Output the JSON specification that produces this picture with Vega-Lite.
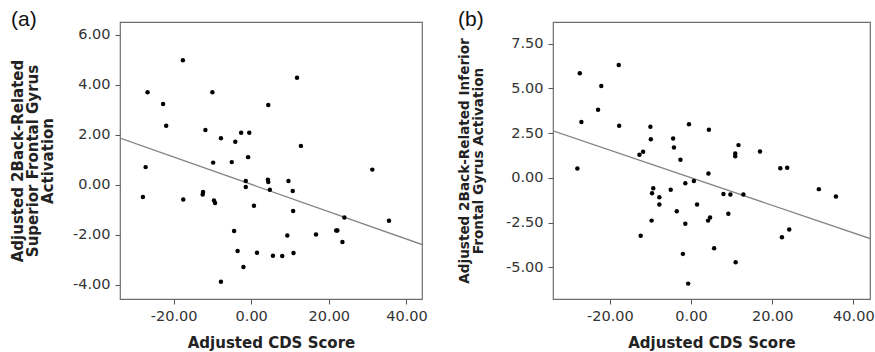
{
  "$schema": "https://vega.github.io/schema/vega-lite/v6.json",
  "padding": {"left": 10, "top": 8, "right": 0, "bottom": 0},
  "spacing": 29,
  "resolve": {"scale": {"x": "independent", "y": "independent"}},
  "config": {
    "view": {"stroke": "#6e6e6e", "strokeWidth": 1.2},
    "axis": {"grid": false, "domain": false, "tickColor": "#555", "tickSize": 5, "labelFont": "DejaVu Sans", "labelFontSize": 14.5, "labelColor": "#333", "labelPadding": 5, "titleFont": "DejaVu Sans", "titleFontSize": 15, "titleFontWeight": "bold", "titleColor": "#222", "labelFlush": false},
    "title": {"font": "Liberation Sans", "fontSize": 21, "fontWeight": "normal", "anchor": "start", "frame": "bounds", "baseline": "alphabetic", "offset": -8, "color": "#111"}
  },
  "datasets": {
    "a": [
      {"x": -17.6, "y": 4.99}, {"x": -26.7, "y": 3.71}, {"x": -22.7, "y": 3.24}, {"x": -21.9, "y": 2.37},
      {"x": -10.0, "y": 3.71}, {"x": 11.8, "y": 4.29}, {"x": 4.4, "y": 3.2}, {"x": -11.8, "y": 2.2},
      {"x": -7.8, "y": 1.87}, {"x": -4.1, "y": 1.73}, {"x": -2.6, "y": 2.09}, {"x": -0.5, "y": 2.09},
      {"x": 12.8, "y": 1.56}, {"x": -27.2, "y": 0.71}, {"x": -9.8, "y": 0.89}, {"x": -5.0, "y": 0.91},
      {"x": -0.8, "y": 1.11}, {"x": 31.2, "y": 0.61}, {"x": -1.4, "y": 0.15}, {"x": -1.4, "y": -0.09},
      {"x": 4.3, "y": 0.2}, {"x": 4.4, "y": 0.11}, {"x": 4.8, "y": -0.2}, {"x": 9.6, "y": 0.15},
      {"x": 10.7, "y": -0.25}, {"x": -27.9, "y": -0.49}, {"x": -17.5, "y": -0.59}, {"x": -12.4, "y": -0.29},
      {"x": -12.5, "y": -0.39}, {"x": -9.6, "y": -0.63}, {"x": -9.3, "y": -0.73}, {"x": 0.7, "y": -0.84},
      {"x": 10.8, "y": -1.05}, {"x": 35.5, "y": -1.44}, {"x": 24.0, "y": -1.31}, {"x": -4.4, "y": -1.85},
      {"x": 9.3, "y": -2.03}, {"x": 16.7, "y": -1.99}, {"x": 21.9, "y": -1.83}, {"x": 22.2, "y": -1.83},
      {"x": 23.5, "y": -2.29}, {"x": -3.5, "y": -2.65}, {"x": 1.5, "y": -2.72}, {"x": 5.6, "y": -2.84},
      {"x": 8.0, "y": -2.85}, {"x": 10.9, "y": -2.73}, {"x": -2.0, "y": -3.29}, {"x": -7.8, "y": -3.88}
    ],
    "b": [
      {"x": -17.8, "y": 6.31}, {"x": -27.4, "y": 5.84}, {"x": -22.1, "y": 5.13}, {"x": -22.9, "y": 3.81},
      {"x": -27.0, "y": 3.12}, {"x": -17.7, "y": 2.91}, {"x": -10.0, "y": 2.85}, {"x": -0.5, "y": 3.0},
      {"x": 4.4, "y": 2.69}, {"x": -9.9, "y": 2.16}, {"x": -4.4, "y": 2.2}, {"x": -4.2, "y": 1.7},
      {"x": -11.8, "y": 1.46}, {"x": -12.7, "y": 1.29}, {"x": -2.6, "y": 1.01}, {"x": 11.7, "y": 1.83},
      {"x": 10.9, "y": 1.36}, {"x": 10.9, "y": 1.21}, {"x": 17.0, "y": 1.47}, {"x": 22.0, "y": 0.54},
      {"x": 23.7, "y": 0.56}, {"x": -28.0, "y": 0.52}, {"x": 4.3, "y": 0.24}, {"x": -1.4, "y": -0.3},
      {"x": 0.7, "y": -0.17}, {"x": -9.3, "y": -0.58}, {"x": -9.6, "y": -0.86}, {"x": -7.8, "y": -1.08},
      {"x": -7.8, "y": -1.49}, {"x": -5.0, "y": -0.67}, {"x": 8.0, "y": -0.9}, {"x": 9.7, "y": -0.93},
      {"x": 12.9, "y": -0.93}, {"x": 31.5, "y": -0.63}, {"x": 35.7, "y": -1.04}, {"x": -3.5, "y": -1.87},
      {"x": 1.5, "y": -1.49}, {"x": 9.2, "y": -2.0}, {"x": -9.7, "y": -2.39}, {"x": -1.4, "y": -2.57},
      {"x": 4.2, "y": -2.39}, {"x": 4.7, "y": -2.22}, {"x": -12.4, "y": -3.23}, {"x": 22.4, "y": -3.32},
      {"x": 24.2, "y": -2.89}, {"x": -2.0, "y": -4.25}, {"x": 5.7, "y": -3.94}, {"x": 11.0, "y": -4.72},
      {"x": -0.7, "y": -5.91}
    ],
    "la": [{"x": -33.8, "y": 1.87}, {"x": 44.0, "y": -2.39}],
    "lb": [{"x": -34.0, "y": 2.63}, {"x": 44.1, "y": -3.39}]
  },
  "hconcat": [
    {
      "title": {"text": "(a)"},
      "width": 302,
      "height": 277,
      "encoding": {
        "x": {"field": "x", "type": "quantitative",
          "scale": {"domain": [-33.8, 44.0], "nice": false, "zero": false},
          "axis": {"title": "Adjusted CDS Score", "values": [-20, 0, 20, 40], "labelExpr": "replace(format(datum.value, '.2f'), '\u2212', '-')", "titlePadding": 13}},
        "y": {"field": "y", "type": "quantitative",
          "scale": {"domain": [-4.57, 6.52], "nice": false, "zero": false},
          "axis": {"title": ["Adjusted 2Back-Related", "Superior Frontal Gyrus", "Activation"], "values": [-4, -2, 0, 2, 4, 6], "labelExpr": "replace(format(datum.value, '.2f'), '\u2212', '-')", "titlePadding": 16.5, "titleLineHeight": 15}}
      },
      "layer": [
        {"data": {"name": "la"}, "mark": {"type": "line", "color": "#858585", "strokeWidth": 1.3, "clip": true}},
        {"data": {"name": "a"}, "mark": {"type": "circle", "size": 20, "color": "#000", "opacity": 1}}
      ]
    },
    {
      "title": {"text": "(b)"},
      "width": 317,
      "height": 277,
      "encoding": {
        "x": {"field": "x", "type": "quantitative",
          "scale": {"domain": [-34.0, 44.1], "nice": false, "zero": false},
          "axis": {"title": "Adjusted CDS Score", "values": [-20, 0, 20, 40], "labelExpr": "replace(format(datum.value, '.2f'), '\u2212', '-')", "titlePadding": 13}},
        "y": {"field": "y", "type": "quantitative",
          "scale": {"domain": [-6.77, 8.71], "nice": false, "zero": false},
          "axis": {"title": ["Adjusted 2Back-Related Inferior", "Frontal Gyrus Activation"], "values": [-5, -2.5, 0, 2.5, 5, 7.5], "labelExpr": "replace(format(datum.value, '.2f'), '\u2212', '-')", "titlePadding": 19.5, "titleLineHeight": 14, "titleFontSize": 13.6}}
      },
      "layer": [
        {"data": {"name": "lb"}, "mark": {"type": "line", "color": "#858585", "strokeWidth": 1.3, "clip": true}},
        {"data": {"name": "b"}, "mark": {"type": "circle", "size": 20, "color": "#000", "opacity": 1}}
      ]
    }
  ]
}
